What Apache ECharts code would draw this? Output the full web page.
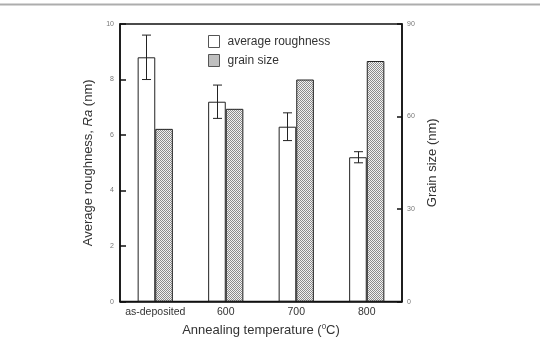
<!DOCTYPE html>
<html>
<head>
<meta charset="utf-8">
<script src="https://cdn.jsdelivr.net/npm/echarts@6/dist/echarts.min.js"></script>
<style>html,body{margin:0;padding:0;background:#fff}#c{width:540px;height:342px}</style>
</head>
<body>
<div id="c"></div>
<script>
const categories = ['as-deposited', '600', '700', '800'];
const roughness = [8.8, 7.2, 6.3, 5.2];
const roughnessErr = [0.8, 0.6, 0.5, 0.2];
const grainSize = [56, 62.5, 72, 78];
const leftTicks = [0, 2, 4, 6, 8, 10];
const rightTicks = [0, 30, 60, 90];

const pat = document.createElement('canvas');
pat.width = 2; pat.height = 2;
const pc = pat.getContext('2d');
pc.fillStyle = '#f2f2f2'; pc.fillRect(0, 0, 2, 2);
pc.fillStyle = '#8c8c8c'; pc.fillRect(0, 0, 1, 1); pc.fillRect(1, 1, 1, 1);
const patFill = { image: pat, repeat: 'repeat' };

const BW = 17.6;
const font = 'Liberation Sans, Arial, sans-serif';
const chart = echarts.init(document.getElementById('c'));
chart.setOption({
  animation: false,
  textStyle: { fontFamily: font },
  graphic: [{ type: 'line', shape: { x1: 0, y1: 4.5, x2: 540, y2: 4.5 }, style: { stroke: '#adadad', lineWidth: 2 } }],
  grid: { left: 120, right: 138, top: 24, bottom: 37, show: true, borderColor: '#111', borderWidth: 1.5, backgroundColor: 'transparent' },
  legend: {
    orient: 'vertical', left: 203, top: 30, itemWidth: 11, itemHeight: 12, itemGap: 6,
    textStyle: { fontSize: 12, color: '#333', fontFamily: font, padding: [0, 0, 0, 3] },
    data: [
      { name: 'average roughness', icon: 'rect', itemStyle: { color: '#fff', borderWidth: 1, borderColor: '#555' } },
      { name: 'grain size', icon: 'rect', itemStyle: { color: patFill, borderWidth: 1, borderColor: '#555' } }
    ]
  },
  xAxis: {
    type: 'category', data: categories,
    axisLine: { lineStyle: { color: '#111', width: 1.5 } },
    axisTick: { show: false },
    axisLabel: { fontSize: 10.5, color: '#333', margin: 5, interval: 0 },
    name: 'Annealing temperature ({s|0}C)', nameLocation: 'middle', nameGap: 18,
    nameTextStyle: { fontSize: 13, color: '#333', rich: { s: { fontSize: 8, verticalAlign: 'top', padding: [0, 0, 8, 0], color: '#333' } } }
  },
  yAxis: [{
    type: 'value', min: 0, max: 10, interval: 2,
    axisLine: { show: true, lineStyle: { color: '#111', width: 1.5 } },
    axisTick: { show: true, inside: true, length: 6, lineStyle: { color: '#111', width: 1.5 } },
    axisLabel: { fontSize: 7, color: '#777', margin: 6, formatter: v => leftTicks.includes(v) ? String(v) : '' },
    splitLine: { show: false },
    name: 'Average roughness, {i|Ra} (nm)', nameLocation: 'middle', nameGap: 22, nameRotate: 90,
    nameTextStyle: { fontSize: 13, color: '#333', rich: { i: { fontStyle: 'italic', fontSize: 13, color: '#333' } } }
  }, {
    type: 'value', min: 0, max: 90, interval: 30, position: 'right',
    axisLine: { show: true, lineStyle: { color: '#111', width: 1.5 } },
    axisTick: { show: true, inside: true, length: 5, lineStyle: { color: '#111', width: 1.5 } },
    axisLabel: { fontSize: 7, color: '#777', margin: 5, formatter: v => rightTicks.includes(v) ? String(v) : '' },
    splitLine: { show: false },
    name: 'Grain size (nm)', nameLocation: 'middle', nameGap: 23, nameRotate: 90,
    nameTextStyle: { fontSize: 13, color: '#333' }
  }],
  series: [{
    name: 'average roughness', type: 'bar', data: roughness, barWidth: BW, barGap: '0%',
    itemStyle: { color: '#fff', borderColor: '#222', borderWidth: 1 }
  }, {
    name: 'grain size', type: 'bar', yAxisIndex: 1, data: grainSize, barWidth: BW, barGap: '0%',
    itemStyle: { color: patFill, borderColor: '#222', borderWidth: 1 }
  }, {
    type: 'custom', yAxisIndex: 0, silent: true, z: 10, clip: false,
    encode: { x: 0, y: 1 },
    data: roughness.map((v, i) => [i, v, roughnessErr[i]]),
    renderItem: function (params, api) {
      const i = api.value(0), v = api.value(1), e = api.value(2);
      const top = api.coord([i, v + e]);
      const bot = api.coord([i, v - e]);
      const x = Math.round(top[0] - BW / 2) + 0.5;
      const hw = 4.5;
      const st = { stroke: '#222', lineWidth: 1, fill: null };
      return { type: 'group', children: [
        { type: 'line', shape: { x1: x, y1: top[1], x2: x, y2: bot[1] }, style: st },
        { type: 'line', shape: { x1: x - hw, y1: top[1], x2: x + hw, y2: top[1] }, style: st },
        { type: 'line', shape: { x1: x - hw, y1: bot[1], x2: x + hw, y2: bot[1] }, style: st }
      ] };
    }
  }]
});
</script>
</body>
</html>
